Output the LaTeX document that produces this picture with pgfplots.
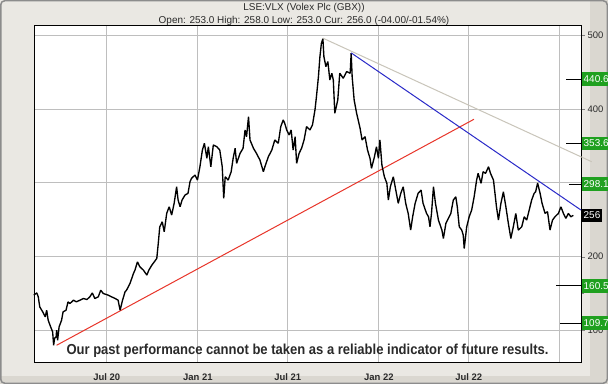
\documentclass[border=0pt]{standalone}
\usepackage{graphicx}
\usepackage{pgfplots}
\pgfplotsset{compat=1.18}
\usepackage{fontspec}
\setmainfont{Liberation Sans}
\definecolor{panel}{HTML}{EAE8E3}
\definecolor{panelr}{HTML}{DAD7D0}
\definecolor{frameg}{HTML}{8C8C8C}
\definecolor{gridg}{HTML}{BEBEBE}
\definecolor{trendred}{HTML}{E8352A}
\definecolor{trendblue}{HTML}{2A2AC8}
\definecolor{trendgray}{HTML}{C9C5BA}
\definecolor{lvlgreen}{HTML}{1FA01F}
\definecolor{txt}{HTML}{2A2A2A}
\pgfplotstableread{
day price
35 147.7
41 150.8
44 145.4
47 131.8
53 125.0
58 118.2
61 127.3
64 113.7
69 104.6
73 97.8
75 79.7
77 89.3
80 91.0
81 100.1
83 86.5
86 104.6
91 113.7
94 125.0
100 127.3
104 138.6
108 136.4
115 140.9
121 138.6
128 140.9
135 143.2
142 141.8
148 145.4
153 150.8
158 143.2
165 145.4
170 154.5
175 150.0
185 147.7
192 145.4
199 143.2
205 140.9
209 127.3
214 140.9
219 152.2
222 154.5
229 163.6
236 177.2
239 181.7
244 192.9
249 186.1
256 181.7
263 174.9
267 181.7
273 188.4
283 197.5
286 217.9
289 240.5
294 247.3
298 233.7
303 258.7
308 267.7
313 256.4
318 272.3
323 294.8
326 276.8
330 267.7
334 276.8
340 283.6
346 285.9
350 301.6
353 306.2
360 310.7
365 303.9
370 322.0
375 344.7
379 353.8
384 333.4
387 349.2
392 322.0
397 351.5
404 349.2
410 344.7
415 322.0
418 279.1
421 308.4
427 303.9
433 315.2
437 333.4
441 347.0
444 326.6
451 340.2
457 347.0
461 371.9
464 362.8
468 389.9
471 358.3
478 347.0
484 340.2
491 331.1
498 315.2
501 322.0
508 335.6
515 344.7
521 358.3
528 353.8
533 376.4
538 385.5
541 381.0
545 371.9
550 365.1
554 371.9
558 344.7
562 362.8
565 326.6
570 340.2
575 347.0
580 358.3
585 376.4
592 371.9
597 378.7
602 399.0
605 417.1
609 444.3
612 471.5
615 489.7
618 495.5
620 471.5
624 457.9
628 464.7
632 439.8
636 448.9
639 439.8
642 394.6
648 412.6
652 448.9
659 442.1
666 451.1
673 448.9
675 476.1
677 444.3
681 412.6
686 394.6
693 374.2
697 358.3
703 362.8
708 344.7
713 333.4
716 319.8
722 335.6
726 349.2
730 333.4
733 358.3
737 324.3
742 308.4
747 299.5
750 276.8
754 294.8
760 308.4
765 290.3
770 272.3
775 285.9
780 294.8
785 272.3
790 258.7
795 236.0
799 254.1
804 272.3
810 285.9
816 290.3
820 272.3
827 258.7
831 254.1
834 240.5
837 258.7
841 294.8
845 272.3
851 249.6
858 236.0
861 224.7
866 245.1
871 251.9
876 258.7
881 276.8
886 281.2
889 267.7
893 240.5
898 236.0
901 229.2
903 211.1
908 240.5
913 254.1
918 263.2
923 281.2
928 303.9
931 313.0
937 299.5
941 315.2
946 313.0
952 322.0
956 313.0
962 303.9
965 285.9
968 267.7
972 249.6
977 272.3
982 288.0
987 267.7
992 245.1
997 224.7
1002 240.5
1007 258.7
1012 236.0
1019 240.5
1024 254.1
1029 249.6
1034 263.2
1039 276.8
1044 285.9
1047 288.0
1051 299.9
1056 285.9
1060 272.3
1066 258.7
1071 261.0
1076 236.0
1081 249.6
1086 254.1
1093 258.7
1098 267.7
1103 258.7
1108 251.9
1113 258.7
1118 254.1
1123 256.0
}\pricedata
\begin{document}
\begin{tikzpicture}
\useasboundingbox (0bp,0bp) rectangle (608bp,384bp);
\fill[panel] (0bp,0bp) rectangle (608bp,384bp);
\fill[panelr] (590bp,0bp) rectangle (608bp,384bp);
\fill[panelr] (0bp,0bp) rectangle (608bp,8bp);
\draw[frameg, line width=1.5bp, rounded corners=4bp] (0.75bp,0.75bp) rectangle (607.25bp,383.25bp);
\node[font=\fontsize{10}{11}\selectfont, text=txt] at (304bp,376bp) {LSE:VLX (Volex Plc (GBX))};
\node[font=\fontsize{10}{11}\selectfont, text=txt] at (304bp,363bp) {Open: 253.0 High: 258.0 Low: 253.0 Cur: 256.0 (-04.00/-01.54\%)};
\begin{axis}[
  at={(34bp,22bp)}, anchor=south west,
  width=547bp, height=336bp, scale only axis,
  xmin=35.4, xmax=1138.5, ymin=57, ymax=513,
  axis background/.style={fill=white},
  axis line style={black, line width=1bp},
  xtick={182,366,547,731,912,1096},
  xticklabels={Jul 20,Jan 21,Jul 21,Jan 22,Jul 22,},
  xtick style={draw=none},
  xticklabel style={font=\bfseries\fontsize{9.5}{10}\selectfont, text=txt, yshift=-4.5bp},
  ytick={100,200,300,400,500},
  yticklabels={100,200,,400,500},
  minor ytick={150,250,350,450},
  ytick pos=right, yticklabel pos=right,
  tick align=outside,
  major tick length=4bp, minor tick length=3bp,
  yticklabel style={font=\fontsize{9.5}{10}\selectfont, text=txt, xshift=-1bp},
  /pgf/number format/assume math mode=true,
  xmajorgrids, ymajorgrids,
  grid style={gridg, line width=0.9bp},
  clip=false,
]
\addplot[trendred, line width=1bp] coordinates {(81,79.7) (922.6,386.4)};
\addplot[trendgray, line width=1bp] coordinates {(618,496.5) (1160,328.8)};
\addplot[black, line width=1.35bp, line join=bevel] table[x=day, y=price] {\pricedata};
\addplot[trendblue, line width=1bp] coordinates {(675,476.5) (1138.5,263.2)};
\addplot[black, line width=1bp] coordinates {(1109,440.6) (1138.5,440.6)};
\addplot[black, line width=1bp] coordinates {(1109,353.6) (1138.5,353.6)};
\addplot[black, line width=1bp] coordinates {(1114,298.1) (1138.5,298.1)};
\addplot[black, line width=1bp] coordinates {(1089,160.5) (1138.5,160.5)};
\addplot[black, line width=1bp] coordinates {(1096,109.7) (1138.5,109.7)};
\node[fill=lvlgreen, text=white, anchor=west, inner xsep=2bp, minimum height=13bp, font=\fontsize{10}{11}\selectfont] at (axis cs:1139.5,440.6) {440.6};
\node[fill=lvlgreen, text=white, anchor=west, inner xsep=2bp, minimum height=13bp, font=\fontsize{10}{11}\selectfont] at (axis cs:1139.5,353.6) {353.6};
\node[fill=lvlgreen, text=white, anchor=west, inner xsep=2bp, minimum height=13bp, font=\fontsize{10}{11}\selectfont] at (axis cs:1139.5,298.1) {298.1};
\node[fill=black, text=white, anchor=west, inner xsep=2bp, minimum height=13bp, font=\fontsize{10}{11}\selectfont] at (axis cs:1139.5,256) {256\hspace{10bp}};
\node[fill=lvlgreen, text=white, anchor=west, inner xsep=2bp, minimum height=13bp, font=\fontsize{10}{11}\selectfont] at (axis cs:1139.5,160.5) {160.5};
\node[fill=lvlgreen, text=white, anchor=west, inner xsep=2bp, minimum height=13bp, font=\fontsize{10}{11}\selectfont] at (axis cs:1139.5,109.7) {109.7};
\node[text=txt] at (axis cs:587,72) {\resizebox{482bp}{\height}{\fontsize{14.5}{15}\selectfont\bfseries Our past performance cannot be taken as a reliable indicator of future results.}};
\end{axis}
\end{tikzpicture}
\end{document}
